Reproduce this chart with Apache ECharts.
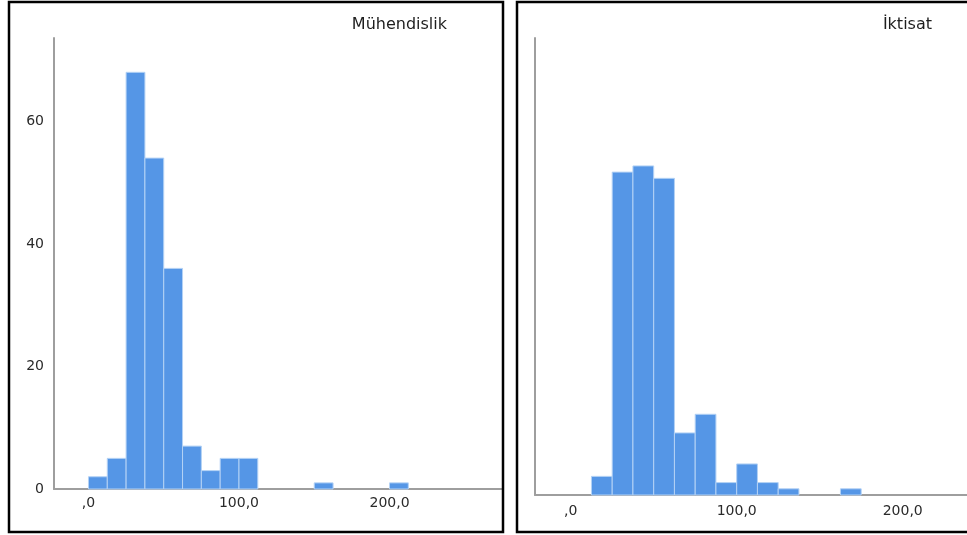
<!DOCTYPE html>
<html>
<head>
<meta charset="utf-8">
<title>Histogram</title>
<script src="https://cdn.jsdelivr.net/npm/echarts@6/dist/echarts.min.js"></script>
<style>
  html, body { margin: 0; padding: 0; background: #fff; }
  #histChart { width: 967px; height: 535px; }
</style>
</head>
<body>
<div id="histChart"></div>
<script>
	// panel titles
	var panelTitles = ['Mühendislik', 'İktisat'];
	// bin width of the histogram
	var binWidth = 12.5;
	// Mühendislik: bin start values and counts
	var muhBins = [0, 12.5, 25, 37.5, 50, 62.5, 75, 87.5, 100, 150, 200];
	var muhCounts = [2, 5, 68, 54, 36, 7, 3, 5, 5, 1, 1];
	// İktisat: bin start values and counts
	var iktBins = [12.5, 25, 37.5, 50, 62.5, 75, 87.5, 100, 112.5, 125, 162.5];
	var iktCounts = [3, 52, 53, 51, 10, 13, 2, 5, 2, 1, 1];
	// tick labels
	var xTickValues = [0, 100, 200];
	var xTickLabels = [',0', '100,0', '200,0'];
	var yTickValues = [0, 20, 40, 60];
	var yTickLabels = ['0', '20', '40', '60'];

	function toBinData(bins, counts) {
		var out = [];
		for (var i = 0; i < bins.length; i++) {
			out.push([bins[i], bins[i] + binWidth, counts[i]]);
		}
		return out;
	}

	// histogram bar drawn through the axis scales
	function renderBin(params, api) {
		var p0 = api.coord([api.value(0), api.value(2)]);
		var p1 = api.coord([api.value(1), 0]);
		return {
			type: 'rect',
			shape: { x: p0[0], y: p0[1], width: p1[0] - p0[0], height: p1[1] - p0[1] },
			style: { fill: '#5596e6', stroke: '#b4d2f5', lineWidth: 1 }
		};
	}

	function xLabel(v) {
		var i = xTickValues.indexOf(v);
		return i < 0 ? '' : xTickLabels[i];
	}
	function yLabel(v) {
		var i = yTickValues.indexOf(v);
		return i < 0 ? '' : yTickLabels[i];
	}

	var axisLineStyle = { color: '#9e9e9e', width: 2 };
	var labelStyle = { color: '#2a2a2a', fontSize: 14, fontFamily: 'DejaVu Sans' };
	var titleStyle = { fontSize: 16, fontWeight: 'normal', color: '#1e1e1e', fontFamily: 'DejaVu Sans' };

	var myChart = echarts.init(document.getElementById('histChart'));
	myChart.setOption({
		animation: false,
		textStyle: { fontFamily: 'DejaVu Sans' },
		title: [
			{ text: panelTitles[0], right: 515, top: 12, textStyle: titleStyle },
			{ text: panelTitles[1], right: 30, top: 12, textStyle: titleStyle }
		],
		grid: [
			{ left: 54, top: 38, width: 449, height: 451, outerBoundsMode: 'none' },
			{ left: 535, top: 38, width: 500, height: 457, outerBoundsMode: 'none' }
		],
		xAxis: [
			{
				type: 'value', gridIndex: 0, min: -22.9, max: 275.4,
				axisLine: { show: true, onZero: false, lineStyle: axisLineStyle },
				axisTick: { show: false },
				splitLine: { show: false },
				axisLabel: Object.assign({ customValues: xTickValues, formatter: xLabel, margin: 7 }, labelStyle)
			},
			{
				type: 'value', gridIndex: 1, min: -21.5, max: 279.7,
				axisLine: { show: true, onZero: false, lineStyle: axisLineStyle },
				axisTick: { show: false },
				splitLine: { show: false },
				axisLabel: Object.assign({ customValues: xTickValues, formatter: xLabel, margin: 9 }, labelStyle)
			}
		],
		yAxis: [
			{
				type: 'value', gridIndex: 0, min: 0, max: 73.6,
				axisLine: { show: true, onZero: false, lineStyle: axisLineStyle },
				axisTick: { show: false },
				splitLine: { show: false },
				axisLabel: Object.assign({ customValues: yTickValues, formatter: yLabel, margin: 10 }, labelStyle)
			},
			{
				type: 'value', gridIndex: 1, min: 0, max: 73.6,
				axisLine: { show: true, onZero: false, lineStyle: axisLineStyle },
				axisTick: { show: false },
				splitLine: { show: false },
				axisLabel: { show: false }
			}
		],
		series: [
			{
				name: panelTitles[0], type: 'custom', xAxisIndex: 0, yAxisIndex: 0,
				renderItem: renderBin, encode: { x: [0, 1], y: 2 },
				data: toBinData(muhBins, muhCounts)
			},
			{
				name: panelTitles[1], type: 'custom', xAxisIndex: 1, yAxisIndex: 1,
				renderItem: renderBin, encode: { x: [0, 1], y: 2 },
				data: toBinData(iktBins, iktCounts)
			}
		],
		// panel frames
		graphic: [
			{
				type: 'rect', z: 100,
				shape: { x: 9, y: 2, width: 494, height: 530 },
				style: { fill: null, stroke: '#000', lineWidth: 2.5 }
			},
			{
				type: 'rect', z: 100,
				shape: { x: 517, y: 2, width: 500, height: 530 },
				style: { fill: null, stroke: '#000', lineWidth: 2.5 }
			}
		]
	});
</script>
</body>
</html>
